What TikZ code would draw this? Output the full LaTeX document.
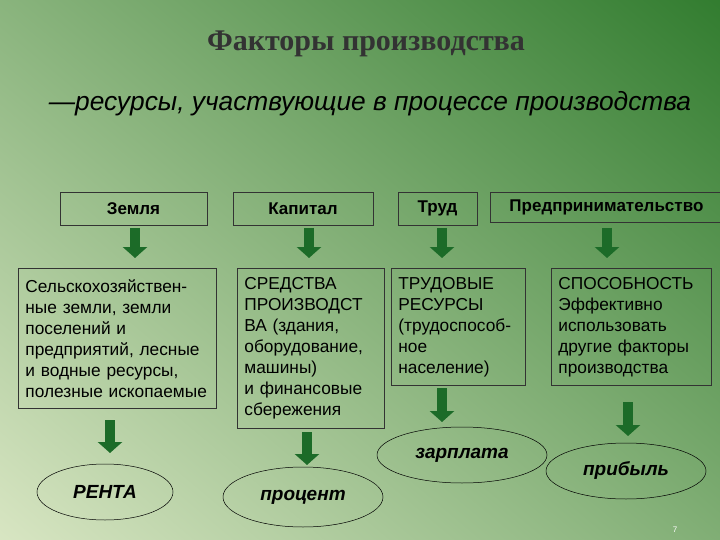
\documentclass[tikz,border=0pt]{standalone}
\usepackage{fontspec}
\setmainfont{Liberation Sans}
\newfontfamily\serifb{Liberation Serif}
\usetikzlibrary{arrows.meta,shapes.geometric}
\definecolor{dk}{HTML}{2E7A2C}
\definecolor{lt}{HTML}{DCE8C6}
\definecolor{arr}{HTML}{1C6B28}
\tikzset{
  x=1pt,y=-1pt,
  topbox/.style={draw=black!80,line width=0.8pt,font=\fontsize{17}{20}\selectfont\bfseries,inner sep=0pt},
  bbox/.style={draw=black!80,line width=0.8pt,font=\fontsize{17.3}{21}\selectfont,align=left,anchor=north west,inner xsep=7pt,inner ysep=5pt},
  ell/.style={ellipse,draw=black,line width=0.5pt,font=\fontsize{19}{20}\selectfont\bfseries\itshape,inner sep=0pt},
  garrow/.style={-{Triangle[width=24pt,length=11pt]},line width=10pt,arr},
}
\begin{document}
\begin{tikzpicture}
\useasboundingbox (0,0) rectangle (720,540);
\shade[shading=axis,top color=dk,bottom color=lt,middle color=lt!50!dk,shading angle=-40] (-150,-150) rectangle (870,690);
\node[text=black!80] (title) at (366,44) {\serifb\fontsize{30}{34}\selectfont\bfseries Факторы производства};
\node[font=\fontsize{26.3}{28}\selectfont\itshape] (sub) at (370,104) {—ресурсы, участвующие в процессе производства};
\node[topbox,minimum width=147,minimum height=33] (z) at (133.5,208.5) {Земля};
\node[topbox,minimum width=140,minimum height=33] (k) at (303,208.5) {Капитал};
\node[topbox,minimum width=79,minimum height=33] (t) at (437.5,208.5) {Труд};
\node[topbox,minimum width=232,minimum height=30,anchor=west] (p) at (490,207) {Предпринимательство};
\node[bbox,text width=184,minimum height=140] (z2) at (18,268) {Сельскохозяйствен-\\ные земли, земли\\поселений и\\предприятий, лесные\\и водные ресурсы,\\полезные ископаемые};
\node[bbox,text width=133,minimum height=160] (k2) at (237,268) {СРЕДСТВА\\ПРОИЗВОДСТ\\ВА (здания,\\оборудование,\\машины)\\и финансовые\\сбережения};
\node[bbox,text width=120,minimum height=117] (t2) at (391,268) {ТРУДОВЫЕ\\РЕСУРСЫ\\(трудоспособ-\\ное\\население)};
\node[bbox,text width=146,minimum height=117] (p2) at (551,268) {СПОСОБНОСТЬ\\Эффективно\\использовать\\другие факторы\\производства};
\node[ell,minimum width=136,minimum height=56] (r) at (105,492) {РЕНТА};
\node[ell,minimum width=160,minimum height=60] (pr) at (303,497) {процент};
\node[ell,minimum width=170,minimum height=56] (zp) at (462,455) {зарплата};
\node[ell,minimum width=160,minimum height=56] (pb) at (626,471) {прибыль};
\node[text=white,font=\fontsize{8}{9}\selectfont] (n) at (675,530) {7};
\coordinate (a1) at (135,228); \coordinate (b1) at (135,258);
\coordinate (a2) at (309,228); \coordinate (b2) at (309,258);
\coordinate (a3) at (442,228); \coordinate (b3) at (442,258);
\coordinate (a4) at (607,228); \coordinate (b4) at (607,258);
\draw[garrow] (a1) -- (b1);
\draw[garrow] (a2) -- (b2);
\draw[garrow] (a3) -- (b3);
\draw[garrow] (a4) -- (b4);
\coordinate (c1) at (110,420); \coordinate (d1) at (110,453);
\coordinate (c2) at (307,432); \coordinate (d2) at (307,465);
\coordinate (c3) at (442,388); \coordinate (d3) at (442,422);
\coordinate (c4) at (628,402); \coordinate (d4) at (628,436);
\draw[garrow] (c1) -- (d1);
\draw[garrow] (c2) -- (d2);
\draw[garrow] (c3) -- (d3);
\draw[garrow] (c4) -- (d4);
\end{tikzpicture}
\end{document}
